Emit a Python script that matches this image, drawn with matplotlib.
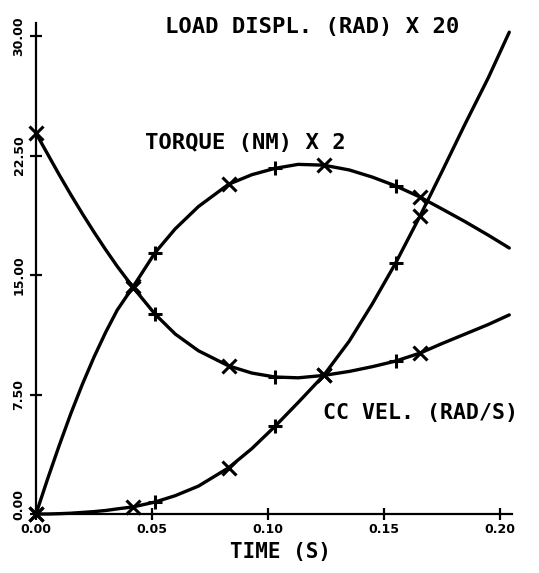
import matplotlib
matplotlib.use("Agg")
import matplotlib.pyplot as plt
from matplotlib.ticker import FixedLocator, FixedFormatter
import matplotlib.transforms as mtransforms

# time samples (s)
t = [0.0, 0.005, 0.01, 0.015, 0.02, 0.025, 0.03, 0.035, 0.042, 0.0513,
     0.06, 0.07, 0.083, 0.093, 0.103, 0.113, 0.124, 0.135, 0.145, 0.155,
     0.1655, 0.175, 0.185, 0.195, 0.204]

# TORQUE (NM) X 2  -- hump-shaped curve
torque = [0.0, 2.2, 4.3, 6.3, 8.15, 9.85, 11.4, 12.8, 14.3, 16.4,
          17.9, 19.3, 20.7, 21.3, 21.7, 21.95, 21.9, 21.6, 21.15, 20.6,
          19.9, 19.15, 18.35, 17.5, 16.7]

# LOAD DISPL. (RAD) X 20 -- accelerating curve
load = [0.0, 0.0, 0.02, 0.05, 0.1, 0.15, 0.22, 0.32, 0.45, 0.75,
        1.15, 1.75, 2.9, 4.1, 5.5, 7.0, 8.7, 10.85, 13.2, 15.75,
        18.7, 21.5, 24.5, 27.4, 30.25]

# CC VEL. (RAD/S) -- U-shaped curve
ccvel = [23.9, 22.6, 21.3, 20.05, 18.85, 17.7, 16.6, 15.55, 14.2, 12.55,
         11.3, 10.25, 9.3, 8.85, 8.6, 8.55, 8.7, 8.95, 9.25, 9.6,
         10.1, 10.7, 11.3, 11.9, 12.5]

x_marks = [0, 8, 12, 16, 20]     # indices carrying an X marker
p_marks = [9, 14, 19]            # indices carrying a + marker

xticks = [0.0, 0.05, 0.10, 0.15, 0.20]
xticklabels = ["0.00", "0.05", "0.10", "0.15", "0.20"]
yticks = [0.0, 7.5, 15.0, 22.5, 30.0]
yticklabels = ["0.00", "7.50", "15.00", "22.50", "30.00"]

fig = plt.figure(figsize=(5.39, 5.73), dpi=100)
ax = fig.add_axes([36/539, 59/573, (511.6-36)/539, (514-23.4)/573])

for y in (torque, load, ccvel):
    ax.plot(t, y, color="black", lw=2.4, solid_capstyle="round",
            solid_joinstyle="round", clip_on=False)
    ax.plot(t, y, ls="none", marker="x", markevery=x_marks, ms=10, mew=2.2,
            mec="black", clip_on=False)
    ax.plot(t, y, ls="none", marker="+", markevery=p_marks, ms=10, mew=2.2,
            mec="black", clip_on=False)

ax.set_xlim(0, 0.205)
ax.set_ylim(0, 30.8)
for s in ("top", "right"):
    ax.spines[s].set_visible(False)
for s in ("left", "bottom"):
    ax.spines[s].set_linewidth(1.6)

ax.xaxis.set_major_locator(FixedLocator(xticks))
ax.xaxis.set_major_formatter(FixedFormatter(xticklabels))
ax.yaxis.set_major_locator(FixedLocator(yticks))
ax.yaxis.set_major_formatter(FixedFormatter(yticklabels))
ax.tick_params(direction="inout", length=9, width=1.6)
ax.tick_params(axis="x", pad=2, labelsize=9)
ax.tick_params(axis="y", pad=3, labelsize=9, labelrotation=90)
for lab in ax.get_xticklabels() + ax.get_yticklabels():
    lab.set_fontweight("bold")
for lab in ax.get_yticklabels():
    lab.set_va("center")
# lift the y "0.00" label slightly so it clears the x "0.00" label
ylabs = ax.get_yticklabels()
ylabs[0].set_transform(ylabs[0].get_transform() +
                       mtransforms.ScaledTranslation(0, 10/100, fig.dpi_scale_trans))

mono = "DejaVu Sans Mono"
ax.text(0.0556, 30.55, "LOAD DISPL. (RAD) X 20", family=mono, fontsize=16,
        fontweight="bold", va="center", ha="left", clip_on=False)
ax.text(0.047, 23.3, "TORQUE (NM) X 2", family=mono, fontsize=16,
        fontweight="bold", va="center", ha="left")
ax.text(0.1237, 6.34, "CC VEL. (RAD/S)", family=mono, fontsize=15.5,
        fontweight="bold", va="center", ha="left")
fig.text(280/539, 1 - 552/573, "TIME (S)", family=mono, fontsize=15,
         fontweight="bold", va="center", ha="center")

fig.savefig("out.png", dpi=100)
